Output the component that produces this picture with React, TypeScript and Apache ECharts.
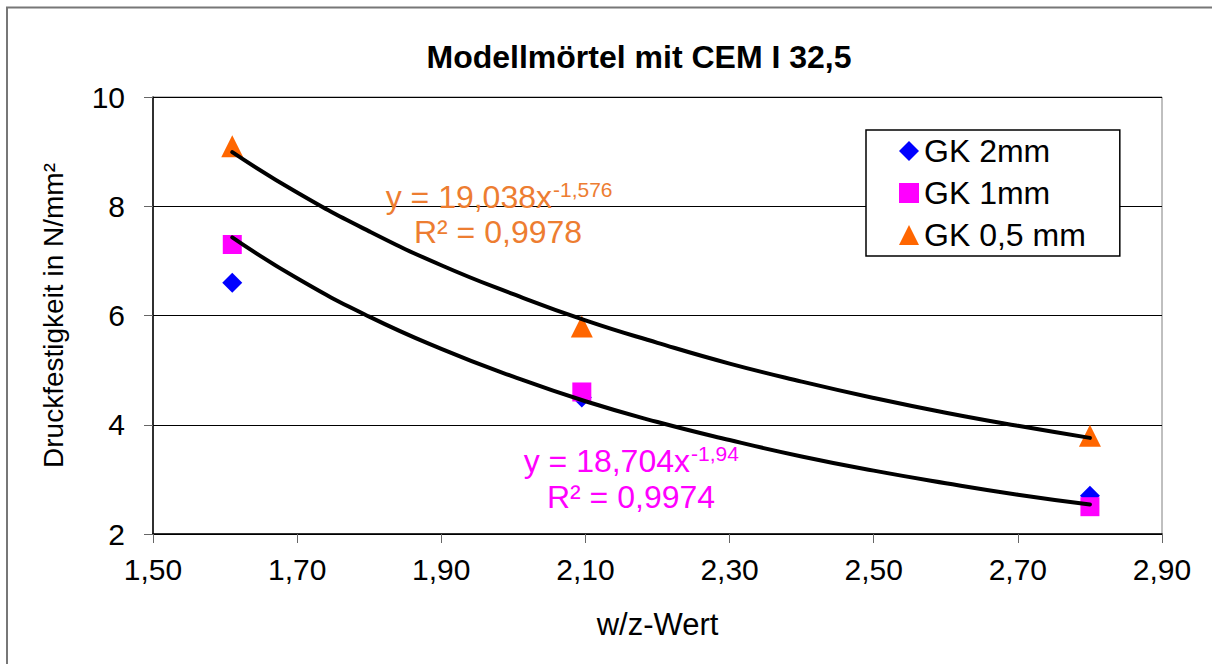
import React, { useEffect, useRef } from "react";
import * as echarts from "echarts";

const FONT = "'Liberation Sans', Arial, sans-serif";

// Measured points (w/z-Wert, Druckfestigkeit)
const wzValues = [1.61, 2.095, 2.8];
const gk2mm = [6.6, 4.5, 2.7];
const gk1mm = [7.3, 4.6, 2.5];
const gk05mm = [9.1, 5.8, 3.8];

const seriesNames = ["GK 2mm", "GK 1mm", "GK 0,5 mm"];

// Power trend lines (black curves)
const trendX = [1.61, 1.7, 1.8, 1.9, 2.0, 2.1, 2.2, 2.3, 2.4, 2.5, 2.6, 2.7, 2.8];
const trendGk05 = [8.99, 8.25, 7.54, 6.92, 6.39, 5.91, 5.5, 5.12, 4.79, 4.49, 4.22, 3.98, 3.76];
const trendGk1 = [7.43, 6.68, 5.98, 5.39, 4.88, 4.43, 4.05, 3.72, 3.42, 3.16, 2.93, 2.72, 2.54];

// Axis settings
const xMin = 1.5;
const xMax = 2.9;
const xStep = 0.2;
const yMin = 2;
const yMax = 10;
const yStep = 2;

// Trend line labels
const eq05 = { main: "y = 19,038x", sup: "-1,576", r2: "R² = 0,9978" };
const eq1 = { main: "y = 18,704x", sup: "-1,94", r2: "R² = 0,9974" };

const pairs = (xs: number[], ys: number[]) => xs.map((x, i) => [x, ys[i]]);

export default function App() {
  const ref = useRef<HTMLDivElement>(null);

  useEffect(() => {
    if (!ref.current) return;
    const chart = echarts.init(ref.current, undefined, { renderer: "svg" });
    const orange = "#ED7D31";
    const magenta = "#FF00FF";
    const textCommon = (
      text: string,
      x: number,
      y: number,
      fill: string,
      size: number,
      align: string
    ) => ({
      type: "text",
      x,
      y,
      z: 10,
      style: {
        text,
        fill,
        fontSize: size,
        fontFamily: FONT,
        align,
        verticalAlign: "middle",
        textAlign: align,
        textVerticalAlign: "middle",
      },
    });

    const option: any = {
      animation: false,
      backgroundColor: "#ffffff",
      textStyle: { fontFamily: FONT },
      title: {
        text: "Modellmörtel mit CEM I 32,5",
        left: 634,
        top: 36,
        textAlign: "center",
        textStyle: { fontSize: 32, fontWeight: "bold", color: "#000", fontFamily: FONT },
      },
      grid: {
        left: 153,
        top: 97,
        width: 1009,
        height: 437,
        show: true,
        borderColor: "#808080",
        borderWidth: 1,
        backgroundColor: "transparent",
      },
      legend: {
        data: seriesNames,
        orient: "vertical",
        left: 866,
        top: 130,
        backgroundColor: "#ffffff",
        borderColor: "#000",
        borderWidth: 1.5,
        borderRadius: 0,
        padding: [5, 34, 5, 33],
        itemGap: 10,
        itemWidth: 20,
        itemHeight: 20,
        textStyle: { fontSize: 32, color: "#000", lineHeight: 30, fontFamily: FONT },
      },
      xAxis: {
        type: "value",
        min: xMin,
        max: xMax,
        interval: xStep,
        name: "w/z-Wert",
        nameLocation: "middle",
        nameGap: 75,
        nameTextStyle: { fontSize: 31, color: "#000", fontFamily: FONT },
        axisLine: { show: true, lineStyle: { color: "#000", width: 1.5 } },
        axisTick: { show: true, length: 9, inside: false, lineStyle: { color: "#666" } },
        axisLabel: {
          fontSize: 30,
          color: "#000",
          margin: 20,
          fontFamily: FONT,
          formatter: (v: number) => v.toFixed(2).replace(".", ","),
        },
        splitLine: { show: false },
      },
      yAxis: {
        type: "value",
        min: yMin,
        max: yMax,
        interval: yStep,
        name: "Druckfestigkeit in N/mm²",
        nameLocation: "middle",
        nameGap: 86,
        nameTextStyle: { fontSize: 28, color: "#000", fontFamily: FONT },
        axisLine: { show: true, lineStyle: { color: "#000", width: 1.5 } },
        axisTick: { show: true, length: 9, inside: false, lineStyle: { color: "#666" } },
        axisLabel: { fontSize: 30, color: "#000", margin: 28, fontFamily: FONT },
        splitLine: { show: true, lineStyle: { color: "#000", width: 1 } },
      },
      series: [
        {
          name: seriesNames[0],
          type: "scatter",
          symbol: "diamond",
          symbolSize: [20, 20],
          itemStyle: { color: "#0000FF", opacity: 1 },
          data: pairs(wzValues, gk2mm),
          z: 2,
        },
        {
          name: seriesNames[1],
          type: "scatter",
          symbol: "rect",
          symbolSize: [19, 19],
          itemStyle: { color: "#FF00FF", opacity: 1 },
          data: pairs(wzValues, gk1mm),
          z: 2,
        },
        {
          name: seriesNames[2],
          type: "scatter",
          symbol: "triangle",
          symbolSize: [22, 22],
          itemStyle: { color: "#FF6600", opacity: 1 },
          data: pairs(wzValues, gk05mm),
          z: 2,
        },
        {
          name: "Trend GK 0,5 mm",
          type: "line",
          data: pairs(trendX, trendGk05),
          smooth: true,
          symbol: "none",
          showSymbol: false,
          lineStyle: { color: "#000", width: 4, cap: "round" },
          silent: true,
          z: 3,
        },
        {
          name: "Trend GK 1mm",
          type: "line",
          data: pairs(trendX, trendGk1),
          smooth: true,
          symbol: "none",
          showSymbol: false,
          lineStyle: { color: "#000", width: 4, cap: "round" },
          silent: true,
          z: 3,
        },
      ],
      graphic: [
        {
          type: "rect",
          shape: { x: 7, y: 7.5, width: 1400, height: 900 },
          style: { fill: "none", stroke: "#777", lineWidth: 2 },
          z: 0,
          silent: true,
        },
        textCommon(eq05.main, 552, 197, orange, 32, "right"),
        textCommon(eq05.sup, 553, 189, orange, 21, "left"),
        textCommon(eq05.r2, 498, 232, orange, 32, "center"),
        textCommon(eq1.main, 690, 461, magenta, 32, "right"),
        textCommon(eq1.sup, 691, 453, magenta, 21, "left"),
        textCommon(eq1.r2, 631, 497, magenta, 32, "center"),
      ],
    };
    chart.setOption(option);
    return () => chart.dispose();
  }, []);

  return (
    <div
      ref={ref}
      style={{ position: "absolute", left: 0, top: 0, width: 1212, height: 664 }}
    />
  );
}
